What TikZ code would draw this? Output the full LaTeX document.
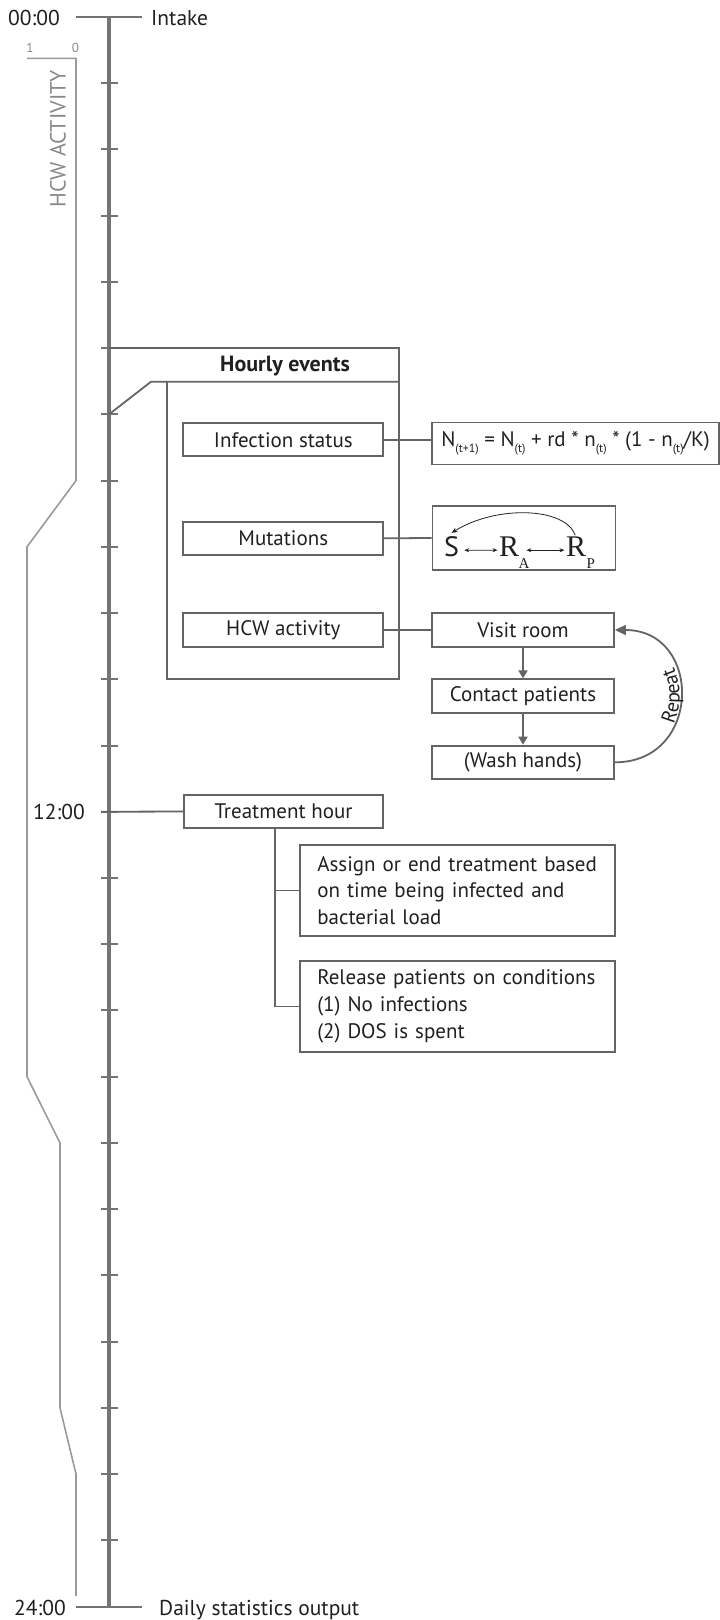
\documentclass[tikz,border=0pt]{standalone}
\usepackage{fontspec}
\setmainfont{PT Sans}
\newfontfamily\rfont{Liberation Serif}
\usetikzlibrary{arrows.meta,decorations.text,calc}
\definecolor{ln}{HTML}{646464}
\definecolor{ax}{HTML}{747474}
\definecolor{hc}{HTML}{9A9A9A}
\definecolor{hct}{HTML}{888888}
\definecolor{tx}{HTML}{231F20}
\newcommand\fsz[2]{\fontsize{#1}{#2}\selectfont}
\newcommand\lowsub[1]{\raisebox{-0.28em}{\fsz{12}{12}#1}}
\begin{document}
\begin{tikzpicture}[x=1pt,y=-1pt,
  box/.style={draw=ln,line width=1.8pt,inner sep=0pt,font=\fsz{21}{26.7},text=tx},
  conn/.style={draw=ln,line width=1.8pt},
  flow/.style={conn,-{Triangle[length=8pt,width=9pt]}},
  tick/.style={draw=ax,line width=2pt},
  axisline/.style={draw=ax,line width=4pt},
  hcwline/.style={draw=hc,line width=1.6pt},
  lab/.style={inner sep=0pt,font=\fsz{21.5}{21.5},text=tx},
  marr/.style={draw=tx,line width=0.8pt,{Stealth[length=5pt,width=4pt]}-{Stealth[length=5pt,width=4pt]}},
  carr/.style={draw=tx,line width=0.8pt,-{Stealth[length=6pt,width=5pt]}}
]
\useasboundingbox (0,0) rectangle (720,1620);
\def\h{66.23}
% ticks
\foreach \k in {1,...,23}{\draw[tick] (101,{17+\h*\k}) -- (118,{17+\h*\k});}
\coordinate (ax0) at (109,17);
\coordinate (ax24) at (109,1606.5);
\coordinate (tl0) at (76,17);
\coordinate (tr0) at (142,17);
\coordinate (tl24) at (76,1606.5);
\coordinate (tr24) at (142,1606.5);
\draw[tick] (tl0) -- (tr0);
\draw[tick] (tl24) -- (tr24);
\draw[axisline] (ax0) -- (ax24);
% time labels
\node[lab,anchor=base east] (t0) at (60,25) {00:00};
\node[lab,anchor=base west] (intake) at (151,25) {Intake};
\node[lab,anchor=base east] (t12) at (85,819) {12:00};
\node[lab,anchor=base east] (t24) at (66,1615) {24:00};
\node[lab,anchor=base west] (daily) at (159,1615) {Daily statistics output};
% HCW activity curve
\node[inner sep=0pt,font=\fsz{13}{13},text=hct] (one) at (30,48) {1};
\node[inner sep=0pt,font=\fsz{13}{13},text=hct] (zero) at (75.5,48) {0};
\node[rotate=90,inner sep=0pt,font=\fsz{22}{22},text=hct] (hcwlab) at (58,139) {HCW ACTIVITY};
\draw[hcwline] (27,58.3) -- (76,58.3) -- (76,{17+7*\h}) -- (27,{17+8*\h}) -- (27,{17+16*\h})
  -- (60,{17+17*\h}) -- (60,{17+21*\h}) -- (76,{17+22*\h}) -- (76,1596);
% hourly events frame
\coordinate (h5) at (109,{17+5*\h});
\coordinate (h6) at (109,{17+6*\h});
\draw[conn] (h5) -- (399,{17+5*\h}) -- (399,679) -- (167,679) -- (167,381.7);
\draw[conn] (h6) -- (151,381.7) -- (399,381.7);
\node[inner sep=0pt,font=\bfseries\fsz{22}{22},text=tx] (hourly) at (285,366) {Hourly events};
% event boxes
\node[box,minimum width=200pt,minimum height=32.7pt] (inf) at (283.3,439.7) {Infection status};
\node[box,minimum width=200pt,minimum height=33pt] (mut) at (283.3,538.3) {Mutations};
\node[box,minimum width=200pt,minimum height=33.4pt] (hcw) at (283.3,630) {HCW activity};
\node[box,minimum width=287pt,minimum height=42pt] (form) at (575.5,443.4)
  {N\lowsub{(t+1)} = N\lowsub{(t)} + rd * n\lowsub{(t)} * (1 - n\lowsub{(t)}/K)};
\node[box,minimum width=183pt,minimum height=64pt] (mform) at (524,538) {};
\node[box,minimum width=182pt,minimum height=33.4pt] (visit) at (523,630) {Visit room};
\node[box,minimum width=182pt,minimum height=33.4pt] (contact) at (523,696) {Contact patients};
\node[box,minimum width=182pt,minimum height=33.4pt] (wash) at (523,762.3) {(Wash hands)};
% mutation formula
\node[inner sep=0pt,anchor=base west,font=\fsz{28}{28},text=tx] (S) at (444,556) {S};
\node[inner sep=0pt,anchor=base west,font=\rfont\fsz{30}{30},text=tx] (RA) at (499,556) {R};
\node[inner sep=0pt,anchor=base west,font=\rfont\fsz{15}{15},text=tx] (A) at (518.5,568) {A};
\node[inner sep=0pt,anchor=base west,font=\rfont\fsz{30}{30},text=tx] (RP) at (566,556) {R};
\node[inner sep=0pt,anchor=base west,font=\rfont\fsz{15}{15},text=tx] (P) at (586.5,568) {P};
\draw[marr] ([shift={(5pt,-4pt)}]S.east) -- ([shift={(-1.5pt,-4pt)}]RA.west);
\draw[marr] ([shift={(7pt,-4pt)}]RA.east) -- ([shift={(-1.5pt,-4pt)}]RP.west);
\draw[carr] ([shift={(-1pt,1pt)}]RP.north) .. controls +(-10,-28) and +(45,-28) .. ([shift={(0pt,3pt)}]S.north);
% connectors
\draw[conn] (inf.east) -- (inf.east -| form.west);
\draw[conn] (mut.east) -- (mform.west);
\draw[conn] (hcw.east) -- (visit.west);
\draw[flow] (visit.south) -- (contact.north);
\draw[flow] (contact.south) -- (wash.north);
\draw[conn,-{Triangle[length=11pt,width=10pt]}] (wash.east) to[out=0,in=0,looseness=1.7] (visit.east);
\path[decorate,decoration={text along path,text={|\fsz{20}{20}\color{tx}|Repeat},text align=center,raise=1pt}]
  (wash.east) to[out=0,in=0,looseness=1.7] (visit.east);
% treatment hour
\node[box,minimum width=199pt,minimum height=33pt] (treat) at (283.5,811.5) {Treatment hour};
\coordinate (h12) at (101,{17+12*\h});
\draw[conn] (h12) -- (treat.west);
\node[box,minimum width=314.6pt,minimum height=91pt,text width=280pt,inner xsep=17pt,align=left] (assign) at (457.3,890.5)
  {Assign or end treatment based\\on time being infected and\\bacterial load};
\node[box,minimum width=314.6pt,minimum height=91pt,text width=280pt,inner xsep=17pt,align=left] (release) at (457.3,1006.5)
  {Release patients on conditions\\(1) No infections\\(2) DOS is spent};
\coordinate (tb) at ([xshift=92pt]treat.south west);
\draw[conn] (tb) -- (tb |- release.west) -- (release.west);
\draw[conn] (tb |- assign.west) -- (assign.west);
\end{tikzpicture}
\end{document}
